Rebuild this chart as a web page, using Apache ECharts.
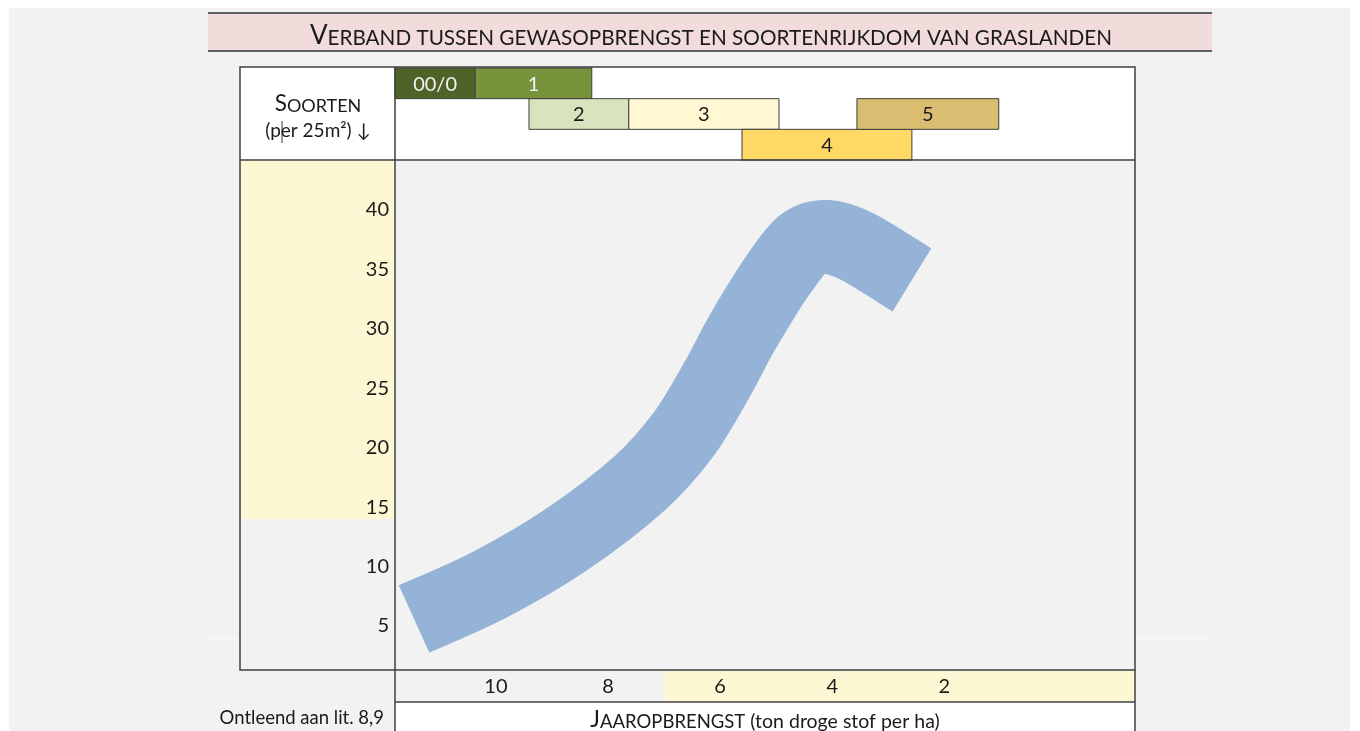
<!DOCTYPE html>
<html><head><meta charset="utf-8">
<script src="https://cdn.jsdelivr.net/npm/echarts@6/dist/echarts.min.js"></script>
<style>html,body{margin:0;padding:0;background:#fff}#c{width:1360px;height:731px}</style>
</head><body><div id="c"></div>
<script>
// ---- data ----
const yieldTicks = [10, 8, 6, 4, 2];                       // ton droge stof per ha
const speciesTicks = [5, 10, 15, 20, 25, 30, 35, 40];      // soorten per 25 m2
const bandYield   = [11.46, 10.12, 8.75, 7.43, 6.66, 6.06, 5.68, 5.29, 4.93, 4.52, 4.09, 3.54, 2.58];
const bandSpecies = [5.59, 8.45, 12.24, 17.03, 21.07, 25.69, 29.06, 32.17, 34.78, 37.13, 37.72, 36.88, 34.11];
const groupNames = ['00/0', '1', '2', '3', '4', '5'];
const groupFrom  = [11.8, 10.37, 9.41, 7.63, 5.61, 3.56];
const groupTo    = [10.37, 8.29, 7.63, 4.95, 2.58, 1.03];
const groupRow   = [0, 0, 1, 1, 2, 1];
const rowNames   = ['r1', 'r2', 'r3'];
const yieldHighlightFrom = 7;      // low-yield zone (yellow)
const speciesHighlightFrom = 14;   // species-rich zone (yellow)

// ---- scales / styles ----
const X_MIN = -1.4, X_MAX = 11.8, Y_MIN = 1.3, Y_MAX = 44.2;
const groupFill = ['#4f6228', '#77933c', '#d7e4bd', '#fff8d2', '#ffd966', '#dbbd72'];
const groupText = ['#f2f2f2', '#f2f2f2', '#1a1a1a', '#1a1a1a', '#1a1a1a', '#1a1a1a'];
const FONT = 'Lato';
const INK = '#1a1a1a';
const LINE = '#3f3f3f';
const YELLOW = '#fdf8d3';

const headerData = groupNames.map((n, i) => [groupFrom[i], groupTo[i], groupRow[i], i]);
const bandData = bandYield.map((x, i) => [x, bandSpecies[i]]);

const xBase = { type: 'value', min: X_MIN, max: X_MAX, inverse: true,
  axisLine: { show: false }, axisTick: { show: false }, splitLine: { show: false } };

const chart = echarts.init(document.getElementById('c'));
function ln(x1, y1, x2, y2, w) {
  return { type: 'line', z: 100, shape: { x1, y1, x2, y2 }, style: { stroke: LINE, lineWidth: w || 1.5 } };
}
function rt(size) { return { fontSize: size, fontFamily: FONT, fill: INK, lineHeight: size, verticalAlign: 'bottom' }; }
chart.setOption({
  backgroundColor: '#f2f2f2',
  animation: false,
  textStyle: { fontFamily: FONT },
  grid: [
    { left: 395, top: 160, width: 740, height: 510 },
    { left: 395, top: 68, width: 740, height: 92 },
    { left: 241, top: 160, width: 154, height: 510 },
    { left: 395, top: 671, width: 740, height: 31 }
  ],
  xAxis: [
    Object.assign({}, xBase, { gridIndex: 0, z: 10,
      axisLabel: { show: true, customValues: yieldTicks, margin: 7, fontSize: 20, color: INK, fontFamily: FONT } }),
    Object.assign({}, xBase, { gridIndex: 1, axisLabel: { show: false } }),
    { gridIndex: 2, type: 'value', min: 0, max: 1, show: false },
    Object.assign({}, xBase, { gridIndex: 3, axisLabel: { show: false } })
  ],
  yAxis: [
    { gridIndex: 0, type: 'value', min: Y_MIN, max: Y_MAX, z: 10,
      axisLine: { show: false }, axisTick: { show: false }, splitLine: { show: false },
      axisLabel: { customValues: speciesTicks, margin: 6, fontSize: 20, color: INK, fontFamily: FONT } },
    { gridIndex: 1, type: 'category', data: rowNames, inverse: true, show: false },
    { gridIndex: 2, type: 'value', min: Y_MIN, max: Y_MAX, show: false },
    { gridIndex: 3, type: 'value', min: 0, max: 1, show: false }
  ],
  series: [
    { type: 'line', xAxisIndex: 2, yAxisIndex: 2, data: [], z: 1, silent: true,
      markArea: { silent: true, itemStyle: { color: YELLOW },
        data: [[{ yAxis: speciesHighlightFrom }, { yAxis: Y_MAX }]] } },
    { type: 'line', xAxisIndex: 3, yAxisIndex: 3, data: [], z: 1, silent: true,
      markArea: { silent: true, itemStyle: { color: YELLOW },
        data: [[{ xAxis: yieldHighlightFrom }, { xAxis: X_MIN }]] } },
    // broad band: a smooth curve through the data points, positioned by the axes
    { type: 'custom', xAxisIndex: 0, yAxisIndex: 0, data: bandData, z: 3, silent: true, clip: false,
      encode: { x: 0, y: 1 },
      renderItem: function (params, api) {
        if (params.dataIndex !== 0) return null;
        const pts = bandData.map(d => api.coord(d));
        const n = pts.length;
        let path = 'M' + pts[0][0] + ' ' + pts[0][1];
        for (let i = 0; i < n - 1; i++) {
          const p0 = pts[Math.max(i - 1, 0)], p1 = pts[i], p2 = pts[i + 1], p3 = pts[Math.min(i + 2, n - 1)];
          const c1 = [p1[0] + (p2[0] - p0[0]) / 6, p1[1] + (p2[1] - p0[1]) / 6];
          const c2 = [p2[0] - (p3[0] - p1[0]) / 6, p2[1] - (p3[1] - p1[1]) / 6];
          path += ' C' + c1[0] + ' ' + c1[1] + ' ' + c2[0] + ' ' + c2[1] + ' ' + p2[0] + ' ' + p2[1];
        }
        return { type: 'path', shape: { pathData: path },
          style: { fill: 'none', stroke: '#95b3d7', lineWidth: 74, lineCap: 'butt', lineJoin: 'round' } };
      } },
    { type: 'custom', xAxisIndex: 1, yAxisIndex: 1, data: headerData, z: 5, silent: true,
      encode: { x: [0, 1], y: 2 },
      renderItem: function (params, api) {
        const row = api.value(2), idx = api.value(3);
        const p0 = api.coord([api.value(0), row]);
        const p1 = api.coord([api.value(1), row]);
        const h = api.size([0, 1])[1];
        const x = Math.min(p0[0], p1[0]), w = Math.abs(p1[0] - p0[0]);
        return { type: 'group', children: [
          { type: 'rect', shape: { x: x, y: p0[1] - h / 2, width: w, height: h },
            style: { fill: groupFill[idx], stroke: LINE, lineWidth: 1 } },
          { type: 'text', style: { text: groupNames[idx], x: x + w / 2, y: p0[1] + 1,
            align: 'center', verticalAlign: 'middle', fill: groupText[idx],
            font: '20px ' + FONT } }
        ] };
      } }
  ],
  graphic: [
    { type: 'rect', z: 0, shape: { x: 0, y: 0, width: 1360, height: 8 }, style: { fill: '#fff' } },
    { type: 'rect', z: 0, shape: { x: 0, y: 0, width: 9, height: 731 }, style: { fill: '#fff' } },
    { type: 'rect', z: 0, shape: { x: 1350, y: 0, width: 10, height: 731 }, style: { fill: '#fff' } },
    { type: 'line', z: 0, shape: { x1: 208, y1: 638, x2: 240, y2: 638 }, style: { stroke: '#fbfbfb', lineWidth: 1 } },
    { type: 'line', z: 0, shape: { x1: 1135, y1: 638, x2: 1212, y2: 638 }, style: { stroke: '#fbfbfb', lineWidth: 1 } },
    // title band
    { type: 'rect', z: 0, shape: { x: 208, y: 13, width: 1004, height: 38 }, style: { fill: '#f2dcdb' } },
    { type: 'line', z: 100, shape: { x1: 208, y1: 13, x2: 1212, y2: 13 }, style: { stroke: '#5f5f5f', lineWidth: 2 } },
    { type: 'line', z: 100, shape: { x1: 208, y1: 51, x2: 1212, y2: 51 }, style: { stroke: '#5f5f5f', lineWidth: 2 } },
    { type: 'text', z: 100, style: { x: 711, y: 36, align: 'center', verticalAlign: 'middle',
      text: '{a|V}{b|ERBAND TUSSEN GEWASOPBRENGST EN SOORTENRIJKDOM VAN GRASLANDEN}',
      rich: { a: rt(26), b: rt(20.7) } } },
    // header row + bottom title row backgrounds
    { type: 'rect', z: 0, shape: { x: 240, y: 67, width: 895, height: 93 }, style: { fill: '#fff' } },
    { type: 'rect', z: 0, shape: { x: 395, y: 702, width: 740, height: 29 }, style: { fill: '#fff' } },
    // frame lines
    { type: 'rect', z: 100, shape: { x: 240, y: 67, width: 895, height: 603 }, style: { fill: null, stroke: LINE, lineWidth: 1.5 } },
    ln(240, 160, 1135, 160),
    ln(395, 67, 395, 731),
    ln(395, 702, 1135, 702),
    ln(1135, 670, 1135, 731),
    // texts
    { type: 'text', z: 100, style: { x: 318, y: 104, align: 'center', verticalAlign: 'middle',
      text: '{a|S}{b|OORTEN}', rich: { a: rt(22.5), b: rt(18) } } },
    { type: 'text', z: 100, style: { x: 318, y: 131, align: 'center', verticalAlign: 'middle',
      text: '(per 25m²) ↓', font: '19px ' + FONT, fill: INK } },
    { type: 'line', z: 101, shape: { x1: 282, y1: 121, x2: 282, y2: 143 }, style: { stroke: '#333', lineWidth: 1 } },
    { type: 'text', z: 100, style: { x: 765, y: 720, align: 'center', verticalAlign: 'middle',
      text: '{a|J}{b|AAROPBRENGST}{c| (ton droge stof per ha)}',
      rich: { a: rt(23), b: rt(18.5), c: rt(19.5) } } },
    { type: 'text', z: 100, style: { x: 384, y: 718, align: 'right', verticalAlign: 'middle',
      text: 'Ontleend aan lit. 8,9', font: '18.5px ' + FONT, fill: INK } }
  ]
});
</script></body></html>
